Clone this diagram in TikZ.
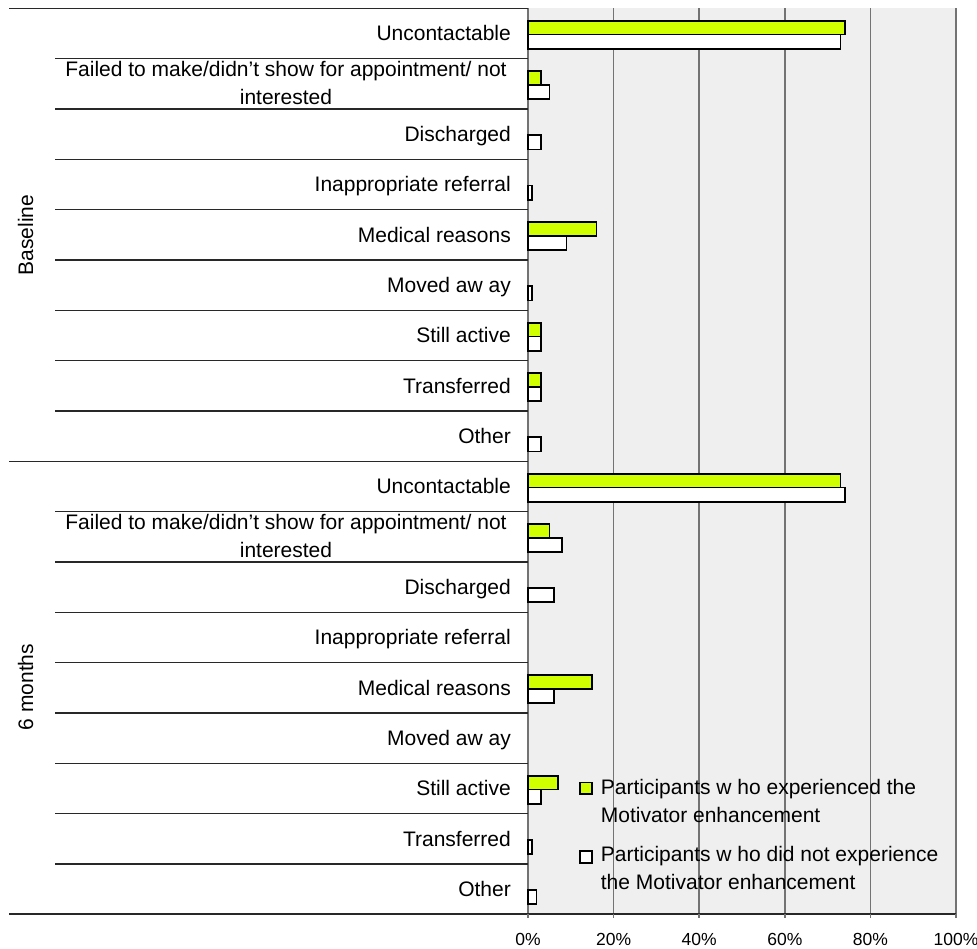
\documentclass[tikz,border=0pt]{standalone}
\usepackage{fontspec}
\setmainfont{Liberation Sans}
\definecolor{barGreen}{RGB}{208,255,0}
\definecolor{plotBg}{RGB}{239,239,239}
\definecolor{gridGray}{RGB}{115,115,115}
\definecolor{ruleDark}{RGB}{40,40,40}
\begin{document}
\begin{tikzpicture}[x=1pt,y=-1pt,
  catlabel/.style={anchor=base east,inner sep=0pt,font=\fontsize{21}{27.5}\selectfont},
  grplabel/.style={rotate=90,anchor=base,inner sep=0pt,font=\fontsize{21}{27.5}\selectfont},
  ticklabel/.style={anchor=base,inner sep=0pt,font=\fontsize{17.5}{20}\selectfont},
  legtext/.style={anchor=base west,align=left,inner sep=0pt,font=\fontsize{21}{28}\selectfont},
  gbar/.style={draw=black,line width=1.8pt,fill=barGreen},
  wbar/.style={draw=black,line width=1.8pt,fill=white},
  gridline/.style={draw=gridGray,line width=1.6pt},
  rowline/.style={draw=ruleDark,line width=1.3pt}]
\useasboundingbox (0,0) rectangle (977,949);
\def\ytop{8.3}
\def\rowh{50.33}
\def\xz{528}
\def\sc{4.28}
% plot background
\fill[plotBg] (\xz,\ytop) rectangle (956,914);
% gridlines
\foreach \p in {20,40,60,80,100}{
  \pgfmathsetmacro{\gx}{\xz+\sc*\p}
  \draw[gridline] (\gx,\ytop) -- (\gx,918);
}
\draw[gridline] (\xz,\ytop) -- (\xz,918);
% bars
\foreach \k/\g/\w in {0/74/73,1/3/5,2/0/3,3/0/1,4/16/9,5/0/1,6/3/3,7/3/3,8/0/3,
                      9/73/74,10/5/8,11/0/6,12/0/0,13/15/6,14/0/0,15/7/3,16/0/1,17/0/2}{
  \pgfmathsetmacro{\c}{\ytop+\rowh*(\k+0.5)}
  \pgfmathsetmacro{\gx}{\xz+\sc*\g}
  \pgfmathsetmacro{\wx}{\xz+\sc*\w}
  \ifnum\g>0 \draw[gbar] (\xz,\c-12.7) rectangle (\gx,\c+1); \fi
  \ifnum\w>0 \draw[wbar] (\xz,\c+1) rectangle (\wx,\c+15.3); \fi
}
% row separators
\foreach \k in {1,...,8,10,11,...,17}{
  \pgfmathsetmacro{\ry}{\ytop+\rowh*\k}
  \draw[rowline] (55,\ry) -- (\xz,\ry);
}
\pgfmathsetmacro{\midy}{\ytop+\rowh*9}
\draw[rowline] (9,\ytop) -- (\xz,\ytop);
\draw[rowline] (9,\midy) -- (\xz,\midy);
\draw[rowline] (9,914) -- (956,914);
% ticks
\foreach \p in {0,20,40,60,80,100}{
  \pgfmathsetmacro{\gx}{\xz+\sc*\p}
  \draw[gridline] (\gx,914) -- (\gx,918);
}
% category labels
\foreach \k/\t/\n in {0/Uncontactable/a0,2/Discharged/a2,3/Inappropriate referral/a3,4/Medical reasons/a4,5/Moved aw ay/a5,6/Still active/a6,7/Transferred/a7,8/Other/a8,
                      9/Uncontactable/a9,11/Discharged/a11,12/Inappropriate referral/a12,13/Medical reasons/a13,14/Moved aw ay/a14,15/Still active/a15,16/Transferred/a16,17/Other/a17}{
  \pgfmathsetmacro{\c}{\ytop+\rowh*(\k+0.5)}
  \node[catlabel] (\n) at (511,\c+7.5) {\t};
}
\pgfmathsetmacro{\ca}{\ytop+\rowh*1.5}
\pgfmathsetmacro{\cb}{\ytop+\rowh*10.5}
\node[anchor=base,align=center,inner sep=0pt,font=\fontsize{21}{28}\selectfont] (a1) at (286,\ca+20.7) {Failed to make/didn\char39 t show for appointment/ not\\interested};
\node[anchor=base,align=center,inner sep=0pt,font=\fontsize{21}{28}\selectfont] (a10) at (286,\cb+20.7) {Failed to make/didn\char39 t show for appointment/ not\\interested};
% group labels
\node[grplabel] (gBase) at (33,235) {Baseline};
\node[grplabel] (gSix) at (33,687) {6 months};
% axis tick labels
\foreach \p in {0,20,40,60,80,100}{
  \pgfmathsetmacro{\gx}{\xz+\sc*\p}
  \node[ticklabel] (t\p) at (\gx,945) {\p\%};
}
% legend
\draw[gbar,line width=1.6pt] (580,782.3) rectangle (592,794);
\draw[wbar,line width=1.6pt] (580,850.7) rectangle (592,862.7);
\node[legtext] (leg1) at (600.7,822.3) {Participants w ho experienced the\\Motivator enhancement};
\node[legtext] (leg2) at (600.7,889.3) {Participants w ho did not experience\\the Motivator enhancement};
\end{tikzpicture}
\end{document}
